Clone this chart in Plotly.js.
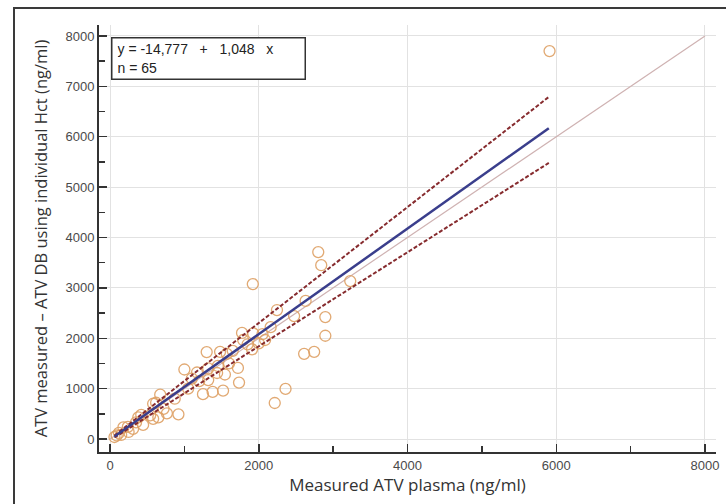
<!DOCTYPE html>
<html>
<head>
<meta charset="utf-8">
<script src="https://cdn.plot.ly/plotly-3.0.1.min.js"></script>
<style>
  html, body { margin: 0; padding: 0; background: #fff; }
  #wrap { position: relative; width: 726px; height: 504px; overflow: hidden; }
  #chart { width: 726px; height: 504px; }
  #frame { position: absolute; left: 13px; top: 7px; width: 760px; height: 560px;
           border: 2px solid #3a3a3a; pointer-events: none; box-sizing: border-box; }
</style>
</head>
<body>
<div id="wrap">
  <div id="chart"></div>
  <div id="frame"></div>
</div>
<script>
// Measured ATV plasma (ng/ml)
const measuredPlasma = [
  5910, 2800, 2840, 3230, 1920, 2630, 2245, 2475, 2895, 2895,
  2160, 2085, 2610, 2745, 2360, 2215, 1775, 1925, 1790, 1910,
  1300, 1480, 1570, 1000, 1170, 1320, 1440, 1545, 1720, 1320,
  1735, 1520, 1380, 1250, 1100, 1600, 1450, 920, 765, 675,
  580, 620, 580, 650, 420, 445, 310, 240, 180, 120,
  60, 90, 150, 350, 540, 720, 870, 1050, 1200, 1650,
  2000, 2050, 1850, 380, 250
];
// ATV measured - ATV DB using individual Hct (ng/ml)
const measuredMinusDB = [
  7700, 3710, 3450, 3135, 3075, 2740, 2560, 2440, 2420, 2050,
  2220, 1965, 1690, 1730, 995, 715, 2105, 2095, 1965, 1780,
  1725, 1730, 1690, 1380, 1320, 1400, 1310, 1280, 1410, 1170,
  1120, 960, 935, 890, 1200, 1500, 1450, 490, 510, 880,
  700, 720, 400, 430, 480, 280, 200, 240, 230, 120,
  40, 70, 80, 330, 470, 600, 800, 1000, 1150, 1750,
  1900, 2080, 1880, 430, 140
];

// Reference lines (endpoints)
const identityX = [0, 8000];
const identityY = [0, 8000];
const regressionX = [60, 5900];
const regressionY = [48, 6168];      // y = -14.777 + 1.048 x
const upperBoundX = [60, 5900];
const upperBoundY = [70, 6790];
const lowerBoundX = [60, 5900];
const lowerBoundY = [30, 5480];

const xTicks = [0, 2000, 4000, 6000, 8000];
const yTicks = [0, 1000, 2000, 3000, 4000, 5000, 6000, 7000, 8000];

const equationText = "y = -14,777\u00a0\u00a0\u00a0+\u00a0\u00a0\u00a01,048\u00a0\u00a0\u00a0x<br>n = 65";

const traces = [
  {
    x: identityX, y: identityY, mode: 'lines', type: 'scatter',
    line: { color: '#cfb2b2', width: 1.2 }, hoverinfo: 'skip'
  },
  {
    x: measuredPlasma, y: measuredMinusDB, mode: 'markers', type: 'scatter',
    marker: { symbol: 'circle-open', size: 11, color: 'rgba(222,160,100,0.9)',
              line: { width: 1.3, color: 'rgba(222,160,100,0.9)' } }
  },
  {
    x: upperBoundX, y: upperBoundY, mode: 'lines', type: 'scatter',
    line: { color: '#862b2e', width: 2, dash: '4px,2px' }
  },
  {
    x: lowerBoundX, y: lowerBoundY, mode: 'lines', type: 'scatter',
    line: { color: '#862b2e', width: 2, dash: '4px,2px' }
  },
  {
    x: regressionX, y: regressionY, mode: 'lines', type: 'scatter',
    line: { color: '#3a3e8c', width: 2.5 }
  }
];

const axisCommon = {
  showline: true, linecolor: '#333', linewidth: 2, mirror: false,
  ticks: 'inside', ticklen: 8, tickwidth: 1.5, tickcolor: '#333',
  showgrid: true, gridcolor: '#e2e2e2', gridwidth: 1, zeroline: false,
  tickfont: { family: 'Liberation Sans, Arial, sans-serif', size: 13, color: '#4a4a4a' }
};

const layout = {
  width: 726, height: 504,
  margin: { l: 99, r: 10, t: 25, b: 52 },
  paper_bgcolor: '#fff', plot_bgcolor: '#fff',
  showlegend: false,
  xaxis: Object.assign({}, axisCommon, {
    range: [-148, 8148], tickvals: xTicks, ticktext: xTicks.map(String),
    minor: { dtick: 1000, tick0: 0, ticks: 'inside', ticklen: 6, tickwidth: 1.5, tickcolor: '#333', showgrid: false },
    title: { text: 'Measured ATV plasma (ng/ml)', standoff: 6,
             font: { family: 'Open Sans, sans-serif', size: 17, color: '#333' } }
  }),
  yaxis: Object.assign({}, axisCommon, {
    range: [-258, 8218], tickvals: yTicks, ticktext: yTicks.map(String),
    minor: { dtick: 500, tick0: 0, ticks: 'inside', ticklen: 6, tickwidth: 1.5, tickcolor: '#333', showgrid: false },
    title: { text: 'ATV measured \u2013 ATV DB using individual Hct (ng/ml)', standoff: 14,
             font: { family: 'Open Sans, sans-serif', size: 16.5, color: '#333' } }
  }),
  annotations: [{
    xref: 'paper', yref: 'paper', x: 0.0194, y: 0.972,
    xanchor: 'left', yanchor: 'top', align: 'left',
    text: equationText, showarrow: false,
    width: 182, height: 30, borderpad: 5,
    bordercolor: '#333', borderwidth: 1.5, bgcolor: '#fff',
    font: { family: 'Liberation Sans, Arial, sans-serif', size: 14, color: '#222' }
  }]
};

Plotly.newPlot('chart', traces, layout, { displayModeBar: false, staticPlot: true });
</script>
</body>
</html>
